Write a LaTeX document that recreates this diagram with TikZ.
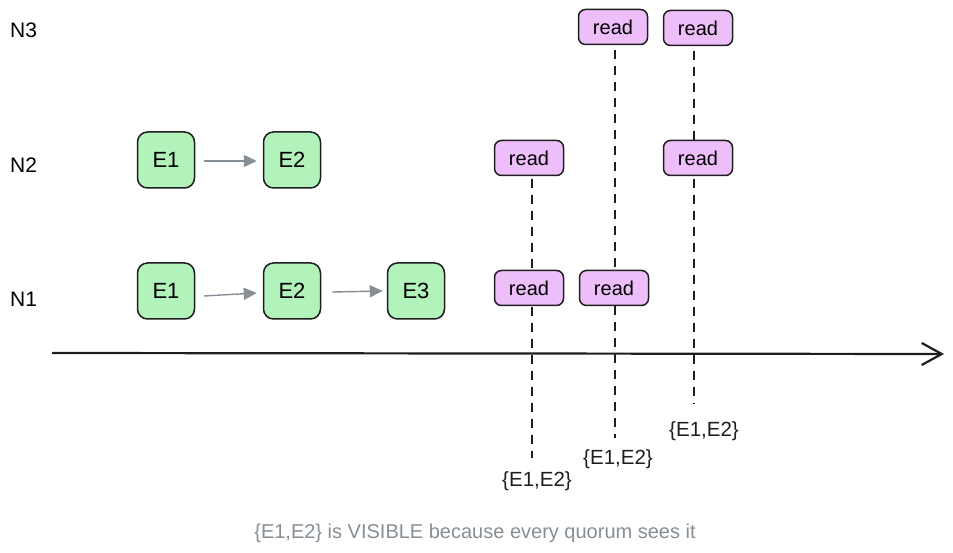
\documentclass[tikz,border=0pt]{standalone}
\usepackage{fontspec}
\setmainfont{Liberation Sans}
\usetikzlibrary{arrows.meta,backgrounds}
\definecolor{ink}{HTML}{1E1E1E}
\definecolor{evfill}{HTML}{B2F2BB}
\definecolor{rdfill}{HTML}{EEBEFA}
\definecolor{grayarrow}{HTML}{868E96}
\definecolor{captiongray}{HTML}{868E96}
\tikzset{
  evbox/.style={draw=ink, line width=1.5pt, fill=evfill, rounded corners=10pt,
    minimum width=57pt, minimum height=56pt, inner sep=0pt, font=\fontsize{22}{24}\selectfont},
  rdbox/.style={draw=ink, line width=1.5pt, fill=rdfill, rounded corners=7pt,
    minimum width=69pt, minimum height=35pt, inner sep=0pt, font=\fontsize{20}{22}\selectfont},
  nlabel/.style={anchor=west, inner sep=0pt, font=\fontsize{21}{23}\selectfont},
  setlabel/.style={inner sep=0pt, font=\fontsize{20.5}{22}\selectfont, text=ink},
  evarrow/.style={draw=grayarrow, line width=1.4pt, -{Triangle[length=13pt,width=12pt]}},
  quorum/.style={draw=ink, line width=2pt, dash pattern=on 9pt off 7pt},
}
\begin{document}
\begin{tikzpicture}[x=1pt,y=-1pt]
\useasboundingbox (0,0) rectangle (953,553);
% node labels
\node[nlabel] (n3) at (10,30) {N3};
\node[nlabel] (n2) at (10,165) {N2};
\node[nlabel] (n1) at (10,299) {N1};
% events
\node[evbox] (a1) at (166,160) {E1};
\node[evbox] (a2) at (292,160) {E2};
\node[evbox] (b1) at (166,291) {E1};
\node[evbox] (b2) at (292,291) {E2};
\node[evbox] (b3) at (416,291) {E3};
\draw[evarrow] ([xshift=9pt,yshift=-1pt]a1.east) -- ([xshift=-6pt,yshift=-1pt]a2.west);
\draw[evarrow] ([xshift=9pt,yshift=-5pt]b1.east) -- ([xshift=-6pt,yshift=-2pt]b2.west);
\draw[evarrow] ([xshift=11pt,yshift=-1pt]b2.east) -- ([xshift=-4pt]b3.west);
% reads
\node[rdbox] (r3a) at (613,27) {read};
\node[rdbox] (r3b) at (698,28) {read};
\node[rdbox] (r2a) at (529,158) {read};
\node[rdbox] (r2b) at (698,158) {read};
\node[rdbox] (r1a) at (529,288) {read};
\node[rdbox] (r1b) at (614,288) {read};
% result labels
\node[setlabel] (s1) at (537,481) {\{E1,E2\}};
\node[setlabel] (s2) at (618,459) {\{E1,E2\}};
\node[setlabel] (s3) at (704,431) {\{E1,E2\}};
\coordinate (e1) at (532,458);
\coordinate (e2) at (615,438);
\coordinate (e3) at (694,404);
% time axis
\coordinate (t0) at (52,353);
\coordinate (t1) at (944,354);
\begin{pgfonlayer}{background}
\draw[quorum] ([yshift=-3pt]r2a.south -| e1) -- (e1);
\draw[quorum] ([yshift=-5pt]r3a.south -| e2) -- (e2);
\draw[quorum] ([yshift=-5pt]r3b.south -| e3) -- (e3);
\end{pgfonlayer}
\draw[draw=ink, line width=2.2pt, -{Straight Barb[length=20pt,width=22pt,line width=2.2pt]}] (t0) -- (t1);
% caption
\node[inner sep=0pt, text=captiongray, font=\fontsize{20}{22}\selectfont] (cap) at (475,533) {\{E1,E2\} is VISIBLE because every quorum sees it};
\end{tikzpicture}
\end{document}
